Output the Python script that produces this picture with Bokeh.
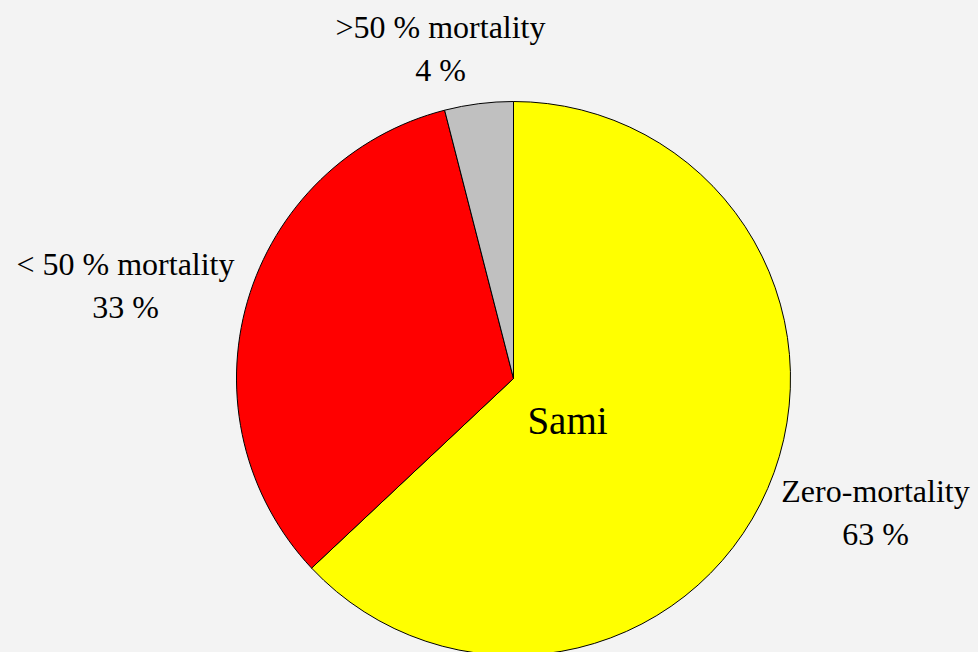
from bokeh.plotting import figure
from bokeh.models import Range1d, ColumnDataSource
from bokeh.core.properties import value
from bokeh.embed import file_html
from bokeh.resources import INLINE
import math

# ---- data ----
categories = ["Zero-mortality", "< 50 % mortality", ">50 % mortality"]
values = [63, 33, 4]
colors = ["#ffff00", "#ff0000", "#c0c0c0"]
title_text = "Sami"

# ---- layout (screen pixels of the page) ----
W, H = 978, 652
cx_s, cy_s, R = 513, 378, 277
label_pos = [(875, 512), (125, 285), (440, 48)]
title_pos = (567, 420)

def X(sx):
    return sx

def Y(sy):
    return H - sy

total = float(sum(values))
starts, ends = [], []
cum = 0.0
for v in values:
    a_start = math.pi / 2 - 2 * math.pi * (cum + v) / total
    a_end = math.pi / 2 - 2 * math.pi * cum / total
    starts.append(a_start)
    ends.append(a_end)
    cum += v

src = ColumnDataSource(dict(
    x=[X(cx_s)] * len(values), y=[Y(cy_s)] * len(values),
    start=starts, end=ends, color=colors))

p = figure(width=W, height=H, output_backend="svg", toolbar_location=None,
           x_range=Range1d(0, W), y_range=Range1d(0, H), min_border=0)
p.axis.visible = False
p.grid.visible = False
p.outline_line_color = None
p.background_fill_color = "#f3f3f3"
p.border_fill_color = "#f3f3f3"

p.wedge(x="x", y="y", radius=R, radius_units="screen", start_angle="start", end_angle="end",
        fill_color="color", line_color="black", line_width=1, source=src)

labels = [f"{c}\n{v} %" for c, v in zip(categories, values)]
p.text(x=[X(px) for px, py in label_pos], y=[Y(py) for px, py in label_pos], text=labels,
       text_font=value("Liberation Serif"), text_font_size="32px", text_align="center",
       text_baseline="middle", text_line_height=1.22, text_color="black")

p.text(x=[X(title_pos[0])], y=[Y(title_pos[1])], text=[title_text],
       text_font=value("Liberation Serif"), text_font_size="39px", text_align="center",
       text_baseline="middle", text_color="black")

html = file_html(p, INLINE)
html = html.replace("<head>", "<head><style>body{background:#f3f3f3;}</style>", 1)
open("out.html", "w").write(html)
